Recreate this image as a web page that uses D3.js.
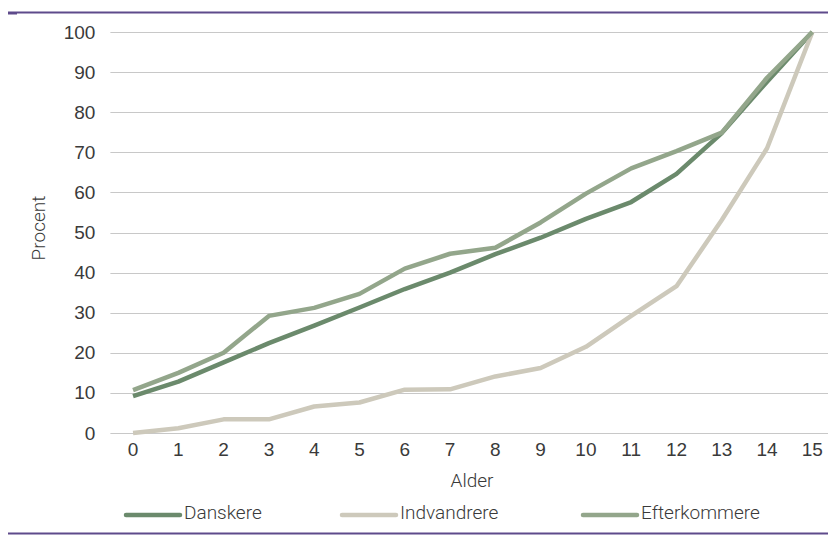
<!DOCTYPE html>
<html>
<head>
<meta charset="utf-8">
<script src="https://cdn.jsdelivr.net/npm/d3@7/dist/d3.min.js"></script>
<style>
  html, body { margin: 0; padding: 0; background: #fff; }
  svg { display: block; font-family: Roboto, "Open Sans", sans-serif; }
</style>
</head>
<body>
<svg id="chart" width="828" height="536"></svg>
<script>
// Andel (procent) efter alder
const ages = d3.range(0, 16);
const danskere     = [9.2, 12.8, 17.6, 22.4, 26.8, 31.3, 35.9, 40.0, 44.6, 48.7, 53.4, 57.6, 64.6, 74.8, 87.6, 100];
const indvandrere  = [0.0, 1.2, 3.4, 3.4, 6.6, 7.6, 10.8, 10.9, 14.1, 16.2, 21.5, 29.2, 36.6, 53.1, 71.0, 100];
const efterkommere = [10.7, 15.0, 20.0, 29.2, 31.2, 34.7, 41.0, 44.7, 46.2, 52.5, 59.7, 66.0, 70.3, 74.9, 88.6, 100];
const yTicks = d3.range(0, 101, 10);

const series = [
  { name: "Danskere",     values: danskere,     color: "#6b8a6c" },
  { name: "Indvandrere",  values: indvandrere,  color: "#cdc9bb" },
  { name: "Efterkommere", values: efterkommere, color: "#93a68b" }
];

const svg = d3.select("#chart");
const textColor = "#3a3a3a";
const fontSize = 19;

// Frame lines
svg.append("line").attr("x1", 8).attr("x2", 828).attr("y1", 12.5).attr("y2", 12.5)
  .attr("stroke", "#5e4b8b").attr("stroke-width", 2);
svg.append("line").attr("x1", 8).attr("x2", 17).attr("y1", 13.5).attr("y2", 13.5)
  .attr("stroke", "#5e4b8b").attr("stroke-width", 2);
svg.append("line").attr("x1", 8).attr("x2", 828).attr("y1", 533.5).attr("y2", 533.5)
  .attr("stroke", "#5e4b8b").attr("stroke-width", 2);

// Category-style x scale: points sit in the middle of each band
const band = d3.scaleBand().domain(ages).range([110.4, 835.0]);
const x = a => band(a) + band.bandwidth() / 2;
const y = d3.scaleLinear().domain([0, 100]).range([433, 32]);

// Y axis labels
const yAxis = d3.axisLeft(y).tickValues(yTicks).tickSize(0).tickPadding(15)
  .tickFormat(d3.format("d"));
const gy = svg.append("g").attr("transform", "translate(110.4,0)").call(yAxis);
gy.select(".domain").remove();
gy.selectAll(".tick line").remove();
gy.selectAll(".tick text").attr("fill", textColor).attr("font-size", fontSize).attr("font-weight", 300);

// Gridlines
svg.append("g").selectAll("line").data(yTicks).join("line")
  .attr("x1", 110.4).attr("x2", 828)
  .attr("y1", d => Math.round(y(d)) + 0.5).attr("y2", d => Math.round(y(d)) + 0.5)
  .attr("stroke", "#c8c8c8").attr("stroke-width", 1);

// X axis labels
const xAxis = d3.axisBottom(band).tickSize(0).tickPadding(10);
const gx = svg.append("g").attr("transform", "translate(0,433)").call(xAxis);
gx.select(".domain").remove();
gx.selectAll(".tick text").attr("fill", textColor).attr("font-size", fontSize).attr("font-weight", 300);

// Axis titles
svg.append("text").attr("x", 472).attr("y", 487).attr("text-anchor", "middle")
  .attr("fill", textColor).attr("font-size", fontSize).attr("font-weight", 300).text("Alder");
svg.append("text").attr("transform", "translate(45,228) rotate(-90)").attr("text-anchor", "middle")
  .attr("fill", textColor).attr("font-size", fontSize).attr("font-weight", 300).text("Procent");

// Lines
const line = d3.line().x((d, i) => x(ages[i])).y(d => y(d));
svg.append("g").selectAll("path").data(series).join("path")
  .attr("d", s => line(s.values))
  .attr("fill", "none")
  .attr("stroke", s => s.color)
  .attr("stroke-width", 4.5)
  .attr("stroke-linejoin", "round");

// Legend
const legendX = [126, 342, 583];
const lg = svg.append("g").selectAll("g").data(series).join("g")
  .attr("transform", (s, i) => `translate(${legendX[i]},515)`);
lg.append("line").attr("x1", 0).attr("x2", 54).attr("y1", 0).attr("y2", 0)
  .attr("stroke", s => s.color).attr("stroke-width", 4.5).attr("stroke-linecap", "round");
lg.append("text").attr("x", 58).attr("y", 4).attr("fill", textColor)
  .attr("font-size", fontSize).attr("font-weight", 300).text(s => s.name);
</script>
</body>
</html>
